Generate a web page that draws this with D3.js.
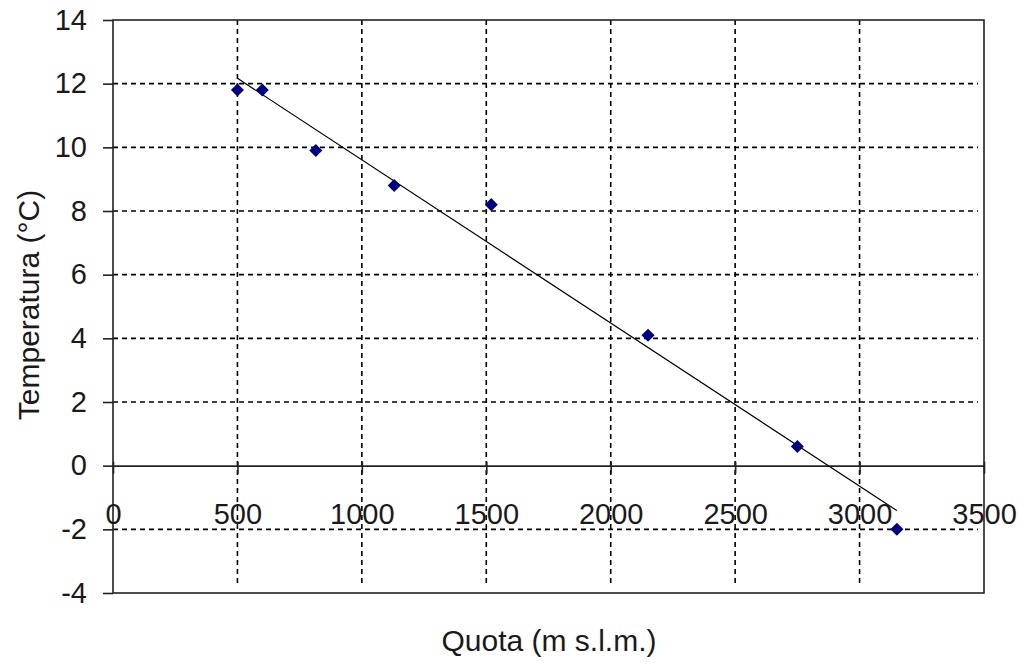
<!DOCTYPE html>
<html>
<head>
<meta charset="utf-8">
<script src="https://cdn.jsdelivr.net/npm/d3@7"></script>
<style>
	body { margin: 0; background: #fff; }
	text { font-family: "Liberation Sans", Arial, sans-serif; fill: #1a1a1a; }
</style>
</head>
<body>
<div id="chart-area"></div>
<script>
// data
var quota = [500, 600, 815, 1130, 1520, 2150, 2750, 3150];
var temperatura = [11.8, 11.8, 9.9, 8.8, 8.2, 4.1, 0.6, -2.0];
var xTicks = [0, 500, 1000, 1500, 2000, 2500, 3000, 3500];
var yTicks = [-4, -2, 0, 2, 4, 6, 8, 10, 12, 14];

var W = 1019, H = 664;
var margin = {top: 20, right: 35, bottom: 71, left: 113};
var width = W - margin.left - margin.right,
	height = H - margin.top - margin.bottom;

var xScale = d3.scaleLinear().domain([0, 3500]).range([0, width]);
var yScale = d3.scaleLinear().domain([-4, 14]).range([height, 0]);

// plain numbers, hyphen minus, no thousands separator
var fmt = d => String(d);

var svg = d3.select("#chart-area").append("svg")
	.attr("width", W)
	.attr("height", H);

var g = svg.append("g")
	.attr("transform", "translate(" + margin.left + "," + margin.top + ")");

// dashed grid
g.append("g").selectAll("line")
	.data(yTicks.filter(d => d != 0 && d != -4 && d != 14))
	.enter().append("line")
	.attr("x1", 0).attr("x2", width - 6)
	.attr("y1", d => yScale(d)).attr("y2", d => yScale(d))
	.attr("stroke", "#000")
	.attr("stroke-width", 1.6)
	.attr("stroke-dasharray", "5,4");

g.append("g").selectAll("line")
	.data(xTicks.filter(d => d != 0 && d != 3500))
	.enter().append("line")
	.attr("x1", d => xScale(d)).attr("x2", d => xScale(d))
	.attr("y1", 0).attr("y2", height - 8)
	.attr("stroke", "#000")
	.attr("stroke-width", 1.6)
	.attr("stroke-dasharray", "5,4");

// frame
g.append("rect")
	.attr("width", width).attr("height", height)
	.attr("fill", "none")
	.attr("stroke", "#222")
	.attr("stroke-width", 1.6);

// y axis
var yAxis = d3.axisLeft(yScale).tickValues(yTicks).tickFormat(fmt).tickSize(10).tickPadding(16);
var yAxisGroup = g.append("g").call(yAxis);
yAxisGroup.select(".domain").remove();
yAxisGroup.selectAll("line").attr("stroke", "#222").attr("stroke-width", 1.6);
yAxisGroup.selectAll("text")
	.style("font-family", "'Liberation Sans', Arial, sans-serif")
	.style("font-size", "29px")
	.attr("fill", "#1a1a1a");

// x axis on zero line
var xAxis = d3.axisBottom(xScale).tickValues(xTicks).tickFormat(fmt).tickSize(8).tickPadding(30).tickSizeOuter(0);
var xAxisGroup = g.append("g")
	.attr("transform", "translate(0," + yScale(0) + ")")
	.call(xAxis);
xAxisGroup.select(".domain").attr("stroke", "#222").attr("stroke-width", 1.6);
xAxisGroup.selectAll("line").attr("stroke", "#222").attr("stroke-width", 1.6).attr("y1", -4);
xAxisGroup.selectAll("text")
	.style("font-family", "'Liberation Sans', Arial, sans-serif")
	.style("font-size", "29px")
	.attr("fill", "#1a1a1a");

// linear trend line
var mx = d3.mean(quota), my = d3.mean(temperatura);
var sxy = d3.sum(quota, (d, i) => (d - mx) * (temperatura[i] - my));
var sxx = d3.sum(quota, d => (d - mx) * (d - mx));
var slope = sxy / sxx, intercept = my - slope * mx;
var trend = d3.extent(quota).map(d => [d, intercept + slope * d]);

g.append("path")
	.datum(trend)
	.attr("fill", "none")
	.attr("stroke", "#000")
	.attr("stroke-width", 1.2)
	.attr("d", d3.line().x(d => xScale(d[0])).y(d => yScale(d[1])));

// points
g.append("g").selectAll("path")
	.data(quota)
	.enter().append("path")
	.attr("d", d3.symbol().type(d3.symbolSquare).size(85))
	.attr("transform", (d, i) => "translate(" + xScale(d) + "," + yScale(temperatura[i]) + ") rotate(45)")
	.attr("fill", "#000080");

// axis titles
svg.append("text")
	.attr("x", 549).attr("y", 651)
	.attr("text-anchor", "middle")
	.style("font-size", "30px")
	.text("Quota (m s.l.m.)");

svg.append("text")
	.attr("transform", "translate(39,305) rotate(-90)")
	.attr("text-anchor", "middle")
	.style("font-size", "30px")
	.text("Temperatura (°C)");
</script>
</body>
</html>
